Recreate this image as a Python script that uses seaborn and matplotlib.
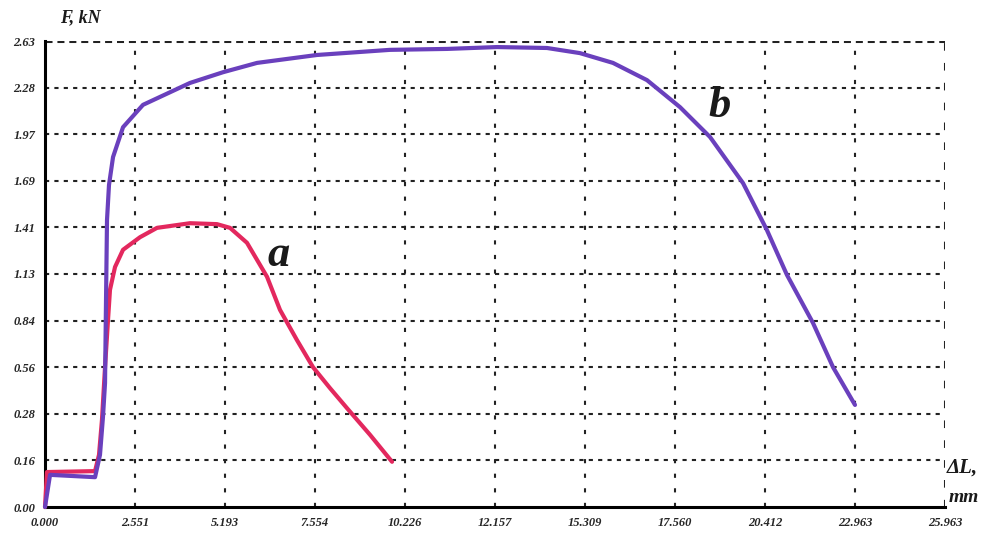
import matplotlib
matplotlib.use("Agg")
import matplotlib.pyplot as plt
import seaborn as sns
import pandas as pd

# Tick labels (the grid is evenly spaced; labels are the printed values)
x_labels = ["0.000", "2.551", "5.193", "7.554", "10.226", "12.157",
            "15.309", "17.560", "20.412", "22.963", "25.963"]
y_labels = ["0.00", "0.16", "0.28", "0.56", "0.84", "1.13",
            "1.41", "1.69", "1.97", "2.28", "2.63"]

# Curves in grid-division units (one division = one tick interval)
a_x = [0.0, 0.022, 0.556, 0.60, 0.633, 0.667, 0.70, 0.722, 0.778, 0.867,
       1.056, 1.244, 1.611, 1.911, 2.056, 2.244, 2.467, 2.611, 2.8, 2.978,
       3.167, 3.356, 3.611, 3.856]
a_y = [0.0, 0.75, 0.77, 1.12, 1.87, 3.0, 4.01, 4.66, 5.15, 5.52,
       5.79, 5.99, 6.09, 6.07, 5.99, 5.67, 4.94, 4.23, 3.58, 3.0,
       2.55, 2.12, 1.55, 0.97]

b_x = [0.0, 0.056, 0.556, 0.611, 0.644, 0.667, 0.678, 0.678, 0.689, 0.711,
       0.756, 0.867, 1.089, 1.2, 1.611, 1.978, 2.356, 3.022, 3.833, 4.467,
       5.022, 5.578, 5.944, 6.311, 6.689, 7.056, 7.389, 7.756, 8.022, 8.244,
       8.533, 8.756, 9.0]
b_y = [0.0, 0.69, 0.64, 1.12, 1.93, 2.66, 3.80, 5.09, 6.16, 6.91,
       7.51, 8.15, 8.63, 8.73, 9.10, 9.33, 9.53, 9.70, 9.81, 9.83,
       9.87, 9.85, 9.74, 9.53, 9.16, 8.58, 7.94, 6.95, 5.94, 4.98,
       3.95, 3.0, 2.19]

RED = "#e3285e"
PURPLE = "#6a40bd"

sns.set_style("white")
plt.rcParams["font.family"] = ["Liberation Serif", "DejaVu Serif"]

fig = plt.figure(figsize=(9.82, 5.35), dpi=100)
ax = fig.add_axes([45 / 982, 28 / 535, 900 / 982, 466 / 535])

# Grid lines
for i in range(1, 10):
    ax.axhline(i, color="#222222", lw=1.5, linestyle=(0, (2, 2.5)), zorder=1)
    ax.axvline(i, color="#222222", lw=1.5, linestyle=(0, (2, 5)), zorder=1)
ax.axhline(10, color="#222222", lw=2.2, linestyle=(0, (2.3, 1.6)), zorder=1)
ax.axvline(10, color="#222222", lw=2.2, linestyle=(0, (2.5, 4)), zorder=1)

df_a = pd.DataFrame({"x": a_x, "y": a_y})
df_b = pd.DataFrame({"x": b_x, "y": b_y})
sns.lineplot(data=df_a, x="x", y="y", sort=False, color=RED, lw=3, ax=ax,
             zorder=3, clip_on=False, solid_joinstyle="round")
sns.lineplot(data=df_b, x="x", y="y", sort=False, color=PURPLE, lw=3, ax=ax,
             zorder=4, clip_on=False, solid_joinstyle="round")

ax.set_xlim(0, 10)
ax.set_ylim(0, 10)
ax.set_xticks(range(11))
ax.set_yticks(range(11))
ax.set_xticklabels(x_labels)
ax.set_yticklabels(y_labels)
ax.tick_params(length=0, labelsize=9, pad=7)
for lab in ax.get_xticklabels() + ax.get_yticklabels():
    lab.set_fontweight("bold")
    lab.set_fontstyle("italic")
ax.set_xlabel("")
ax.set_ylabel("")

for side in ["top", "right"]:
    ax.spines[side].set_visible(False)
for side in ["left", "bottom"]:
    ax.spines[side].set_color("black")
    ax.spines[side].set_linewidth(2.2)

txt = dict(fontweight="bold", fontstyle="italic", color="#1a1a1a")
fig.text(60 / 982, 1 - 18 / 535, "F, kN", fontsize=13, va="center", **txt)
fig.text(947 / 982, 1 - 468 / 535, "ΔL,", fontsize=15, va="center", **txt)
fig.text(949 / 982, 1 - 497 / 535, "mm", fontsize=14, va="center", **txt)
ax.text(2.6, 5.4, "a", fontsize=32, ha="center", va="center", **txt)
ax.text(7.5, 8.6, "b", fontsize=32, ha="center", va="center", **txt)

fig.savefig("out.png", dpi=100)
